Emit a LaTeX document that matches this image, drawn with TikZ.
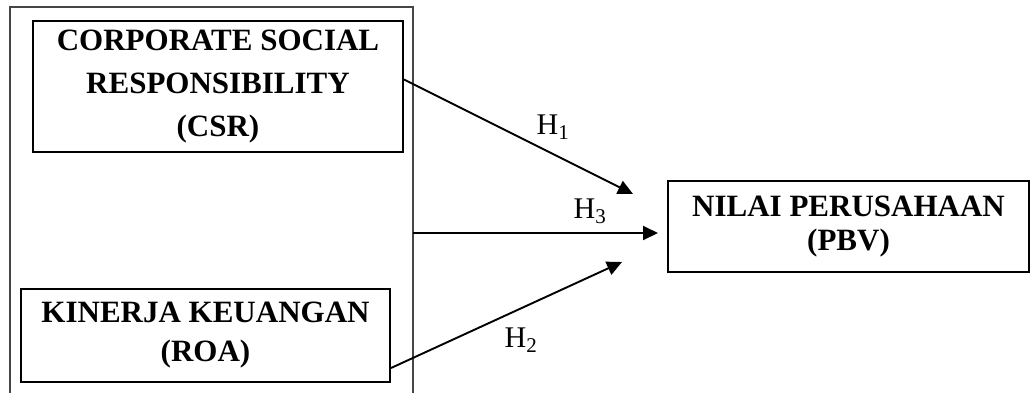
\documentclass[tikz,border=0pt]{standalone}
\usepackage{fontspec}
\setmainfont{Liberation Serif}
\usepackage{tikz}
\usetikzlibrary{arrows.meta,positioning}
\definecolor{framegray}{RGB}{70,70,70}
\tikzset{
  box/.style={
    draw=black,
    line width=2pt,
    align=center,
    inner sep=0pt,
    font=\fontsize{31}{41}\selectfont\bfseries
  },
  frame/.style={draw=framegray, line width=1.8pt},
  arrow/.style={-{Triangle[length=15pt,width=14pt]}, line width=1.9pt, draw=black},
  hyp/.style={inner sep=0pt, font=\fontsize{30}{32}\selectfont}
}

\begin{document}
\begin{tikzpicture}[x=1pt, y=-1pt]
        \useasboundingbox (0,0) rectangle (1031,392);
        \draw[frame] (10,393) -- (10,7) -- (413,7) -- (413,393);
        \node[box, minimum width=370pt, minimum height=131pt, font=\fontsize{31}{43}\selectfont\bfseries] (csr) at (218,86.5) {CORPORATE SOCIAL\\RESPONSIBILITY\\(CSR)};
        \node[box, minimum width=369pt, minimum height=93pt, font=\fontsize{31}{39}\selectfont\bfseries] (roa) at (205.5,335.5) {KINERJA KEUANGAN\\(ROA)};
        \node[box, minimum width=361pt, minimum height=91pt, font=\fontsize{31}{34}\selectfont\bfseries] (pbv) at (848.5,226.5) {NILAI PERUSAHAAN\\(PBV)};
        \coordinate (h3start) at (413,233);
        \coordinate (h1end) at (633,194);
        \coordinate (h2end) at (622,262);
        \coordinate (h3end) at ([xshift=-9pt]pbv.west |- h3start);
        \draw[arrow] ([yshift=7pt]csr.east) -- (h1end);
        \draw[arrow] (h3start) -- (h3end);
        \draw[arrow] ([yshift=-32.5pt]roa.east) -- (h2end);
        \node[hyp] (h1) at (553,127) {H\textsubscript{1}};
        \node[hyp] (h3) at (590,211) {H\textsubscript{3}};
        \node[hyp] (h2) at (521,340) {H\textsubscript{2}};
      \end{tikzpicture}
\end{document}
